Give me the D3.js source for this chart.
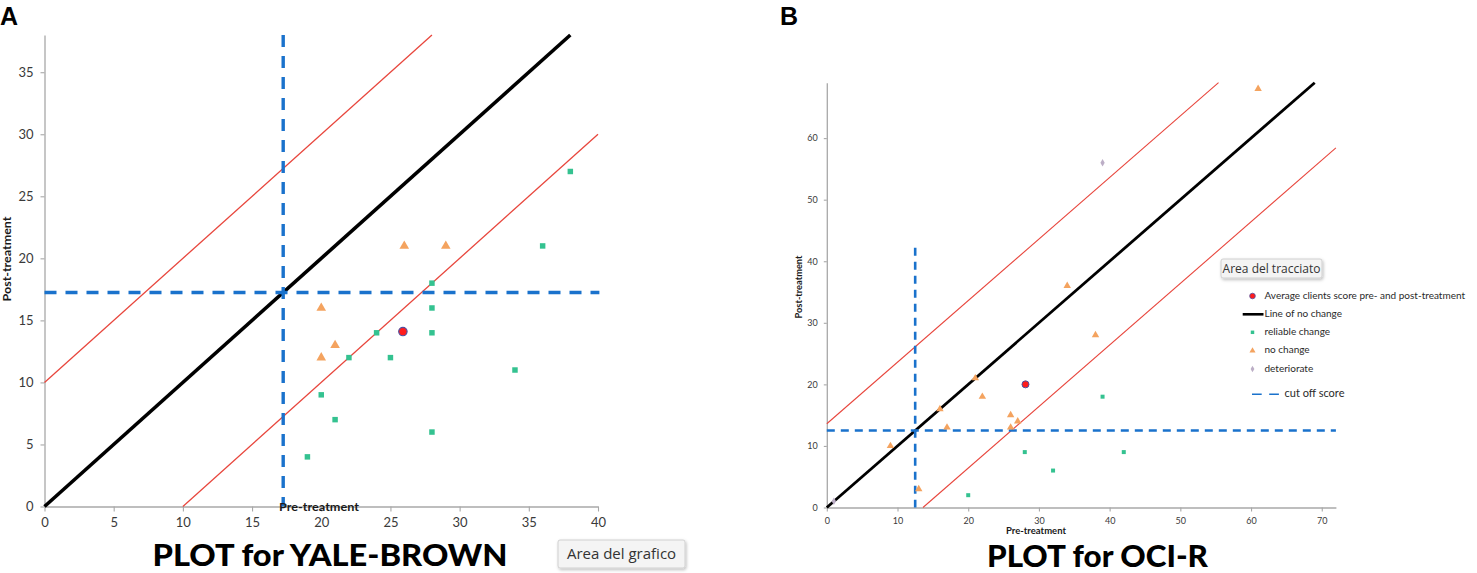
<!DOCTYPE html>
<html><head><meta charset="utf-8">
<script src="https://cdn.jsdelivr.net/npm/d3@7"></script>
<style>
body{margin:0;background:#fff}
svg{display:block}
text{font-family:Lato,"Liberation Sans",sans-serif}
</style>
</head><body>
<svg id="chart" width="1477" height="573"></svg>
<script>
// ---------- DATA ----------
// Panel A : Yale-Brown (Y-BOCS)
const ybocsTitle = "PLOT for YALE-BROWN";
const ybocsXTicks = [0, 5, 10, 15, 20, 25, 30, 35, 40];
const ybocsYTicks = [0, 5, 10, 15, 20, 25, 30, 35];
const ybocsXMax = 40;
const ybocsYMax = 38;
const ybocsCutoff = 17.25;
const ybocsRCI = 10;
const ybocsCutoffHEnd = 40.1;
const ybocsCutoffVEnd = 38;
const ybocsReliable = [[38,27],[36,21],[28,18],[28,16],[28,14],[24,14],[25,12],[22,12],[34,11],[20,9],[21,7],[28,6],[19,4]];
const ybocsNoChange = [[26,21],[29,21],[20,16],[21,13],[20,12]];
const ybocsDeteriorate = [];
const ybocsAverage = [[25.9,14.1]];

// Panel B : OCI-R
const ociTitle = "PLOT for OCI-R";
const ociXTicks = [0, 10, 20, 30, 40, 50, 60, 70];
const ociYTicks = [0, 10, 20, 30, 40, 50, 60];
const ociXMax = 72;
const ociYMax = 69;
const ociCutoff = 12.5;
const ociRCI = 13.6;
const ociCutoffHEnd = 72;
const ociCutoffVEnd = 42.2;
const ociReliable = [[39,18],[28,9],[42,9],[32,6],[20,2]];
const ociNoChange = [[61,68],[34,36],[38,28],[21,21],[22,18],[16,16],[26,15],[27,14],[26,13],[17,13],[9,10],[13,3]];
const ociDeteriorate = [[39,56],[1,1]];
const ociAverage = [[28.1,20]];

const legendLabels = ["Average clients score pre- and post-treatment","Line of no change","reliable change","no change","deteriorate","cut off score"];
const axisXLabel = "Pre-treatment";
const axisYLabel = "Post-treatment";

// ---------- STYLE ----------
const C = {
  green:"#34c290", orange:"#f4a35f", red:"#e8463d", avg:"#ff1c1c", avgStroke:"#5050a0",
  blue:"#1a72cc", grey:"#bcaec6", axis:"#a8a8a8", text:"#3a3a3a"
};

const svg = d3.select("#chart");
svg.append("rect").attr("width",1477).attr("height",573).attr("fill","#fff");
const defs = svg.append("defs");
const f = defs.append("filter").attr("id","sh").attr("x","-10%").attr("y","-20%").attr("width","130%").attr("height","160%");
f.append("feDropShadow").attr("dx",1).attr("dy",1.5).attr("stdDeviation",1.5).attr("flood-color","#000").attr("flood-opacity",0.25);

function drawPanel(cfg, d) {
  const g = svg.append("g");
  const x = d3.scaleLinear().domain([0, d.xMax]).range(cfg.xr);
  const y = d3.scaleLinear().domain([0, d.yMax]).range(cfg.yr);

  // axes
  const ax = g.append("g").attr("transform", `translate(0,${cfg.yr[0]})`)
    .call(d3.axisBottom(x).tickValues(d.xTicks).tickSize(cfg.xTick).tickSizeOuter(0).tickPadding(cfg.xPad));
  const ay = g.append("g").attr("transform", `translate(${cfg.xr[0]},0)`)
    .call(d3.axisLeft(y).tickValues(d.yTicks).tickSize(cfg.yTick).tickSizeOuter(0).tickPadding(cfg.yPad));
  [ax, ay].forEach(a => {
    a.select(".domain").attr("stroke", C.axis).attr("stroke-width", 1.3);
    a.selectAll(".tick line").attr("stroke", C.axis).attr("stroke-width", 1.1);
    a.selectAll("text").attr("fill", C.text).style("font-size", cfg.tickFont + "px").style("font-family", "Lato, sans-serif");
  });

  const line = d3.line().x(p => x(p[0])).y(p => y(p[1]));
  // reliable change bounds
  g.append("path").attr("d", line([[0, d.rci], [d.yMax - d.rci, d.yMax]]))
    .attr("stroke", C.red).attr("stroke-width", cfg.redW).attr("fill", "none");
  g.append("path").attr("d", line([[d.rci, 0], [d.xMax, d.xMax - d.rci]]))
    .attr("stroke", C.red).attr("stroke-width", cfg.redW).attr("fill", "none");
  // line of no change
  const m = Math.min(d.xMax, d.yMax);
  g.append("path").attr("d", line([[0, 0], [m, m]]))
    .attr("stroke", "#000").attr("stroke-width", cfg.blackW).attr("fill", "none");
  // cut off
  g.append("path").attr("d", line([[0, d.cutoff], [d.hEnd, d.cutoff]]))
    .attr("stroke", C.blue).attr("stroke-width", cfg.blueW).attr("stroke-dasharray", cfg.dash).attr("fill", "none");
  g.append("path").attr("d", line([[d.cutoff, d.vEnd], [d.cutoff, 0]]))
    .attr("stroke", C.blue).attr("stroke-width", cfg.blueW).attr("stroke-dasharray", cfg.dash).attr("fill", "none");

  // points
  const sym = (type, size) => d3.symbol().type(type).size(size)();
  g.selectAll(".rel").data(d.reliable).join("path").attr("class","rel")
    .attr("transform", p => `translate(${x(p[0])},${y(p[1])})`)
    .attr("d", sym(d3.symbolSquare, cfg.sq)).attr("fill", C.green);
  g.selectAll(".nc").data(d.noChange).join("path").attr("class","nc")
    .attr("transform", p => `translate(${x(p[0])},${y(p[1])})`)
    .attr("d", sym(d3.symbolTriangle, cfg.tri)).attr("fill", C.orange);
  g.selectAll(".det").data(d.deteriorate).join("path").attr("class","det")
    .attr("transform", p => `translate(${x(p[0])},${y(p[1])})`)
    .attr("d", sym(d3.symbolDiamond, cfg.dia)).attr("fill", C.grey);
  g.selectAll(".avg").data(d.average).join("circle").attr("class","avg")
    .attr("cx", p => x(p[0])).attr("cy", p => y(p[1])).attr("r", cfg.avgR)
    .attr("fill", C.avg).attr("stroke", C.avgStroke).attr("stroke-width", cfg.avgSW);

  // axis titles
  g.append("text").attr("x", cfg.xLab[0]).attr("y", cfg.xLab[1]).attr("text-anchor","middle")
    .attr("dominant-baseline","middle").style("font-weight","700").style("font-size", cfg.labFont+"px")
    .attr("fill","#1a1a1a").attr("textLength", cfg.xLabLen).attr("lengthAdjust","spacingAndGlyphs").text(axisXLabel);
  g.append("text").attr("transform", `translate(${cfg.yLab[0]},${cfg.yLab[1]}) rotate(-90)`).attr("text-anchor","middle")
    .attr("dominant-baseline","middle").style("font-weight","700").style("font-size", cfg.labFont+"px")
    .attr("fill","#1a1a1a").attr("textLength", cfg.yLabLen).attr("lengthAdjust","spacingAndGlyphs").text(axisYLabel);

  // big title
  g.append("text").attr("x", cfg.title[0]).attr("y", cfg.title[1]).attr("text-anchor","middle")
    .style("font-weight","900").style("font-size","31px").attr("fill","#000")
    .attr("textLength", cfg.titleLen).attr("lengthAdjust","spacingAndGlyphs").text(d.title);

  // panel letter
  g.append("text").attr("x", cfg.letter[0]).attr("y", 25).style("font-family","'Liberation Sans',Arial,sans-serif")
    .style("font-weight","700").style("font-size","25px").attr("fill","#000").text(cfg.letterText);

  // tooltip-like box
  const b = cfg.box;
  const bg = g.append("g");
  bg.append("rect").attr("x", b.x).attr("y", b.y).attr("width", b.w).attr("height", b.h).attr("rx", 2)
    .attr("fill", "#f4f4f4").attr("stroke", "#d0d0d0").attr("filter","url(#sh)");
  bg.append("text").attr("x", b.x + b.w/2).attr("y", b.y + b.h/2 + 1).attr("text-anchor","middle")
    .attr("dominant-baseline","middle").style("font-family","'Open Sans',sans-serif").style("font-size", b.font+"px")
    .attr("fill","#333").text(b.text);
  return {x, y};
}

drawPanel({
  xr:[44.5, 598], yr:[506.5, 35], xTick:5, xPad:6, yTick:4, yPad:7, tickFont:13,
  redW:1.3, blackW:3.6, blueW:3.4, dash:"12,9", sq:30, tri:40, dia:20, avgR:4.2, avgSW:1.2,
  xLab:[319, 508], xLabLen:80, yLab:[8, 259], yLabLen:85, labFont:12,
  title:[330, 566], titleLen:355, letter:[0,0], letterText:"A",
  box:{x:558, y:540, w:127, h:28, text:"Area del grafico", font:15}
}, {
  title: ybocsTitle, xTicks: ybocsXTicks, yTicks: ybocsYTicks, xMax: ybocsXMax, yMax: ybocsYMax,
  cutoff: ybocsCutoff, rci: ybocsRCI, hEnd: ybocsCutoffHEnd, vEnd: ybocsCutoffVEnd,
  reliable: ybocsReliable, noChange: ybocsNoChange, deteriorate: ybocsDeteriorate, average: ybocsAverage
});

drawPanel({
  xr:[826.8, 1335.9], yr:[507.5, 82.7], xTick:4, xPad:6, yTick:3, yPad:6, tickFont:9,
  redW:1.1, blackW:2.8, blueW:2.6, dash:"8,6", sq:16, tri:24, dia:16, avgR:3.5, avgSW:1,
  xLab:[1036, 532], xLabLen:60, yLab:[800, 287], yLabLen:63, labFont:9,
  title:[1097.5, 567], titleLen:221, letter:[780,0], letterText:"B",
  box:{x:1221, y:259, w:101, h:19, text:"Area del tracciato", font:12}
}, {
  title: ociTitle, xTicks: ociXTicks, yTicks: ociYTicks, xMax: ociXMax, yMax: ociYMax,
  cutoff: ociCutoff, rci: ociRCI, hEnd: ociCutoffHEnd, vEnd: ociCutoffVEnd,
  reliable: ociReliable, noChange: ociNoChange, deteriorate: ociDeteriorate, average: ociAverage
});

// ---------- LEGEND (panel B) ----------
const lg = svg.append("g");
const legY = [296, 314.3, 332.3, 350.7, 369, 394.3];
const mx = 1252.5, tx = 1264.5;
lg.append("circle").attr("cx", mx).attr("cy", legY[0]).attr("r", 2.8).attr("fill", C.avg).attr("stroke", C.avgStroke).attr("stroke-width", 0.8);
lg.append("line").attr("x1", 1242.7).attr("x2", 1263.5).attr("y1", legY[1]).attr("y2", legY[1]).attr("stroke", "#000").attr("stroke-width", 2.6);
lg.append("path").attr("transform", `translate(${mx},${legY[2]})`).attr("d", d3.symbol().type(d3.symbolSquare).size(12)()).attr("fill", C.green);
lg.append("path").attr("transform", `translate(${mx},${legY[3]})`).attr("d", d3.symbol().type(d3.symbolTriangle).size(16)()).attr("fill", C.orange);
lg.append("path").attr("transform", `translate(${mx},${legY[4]})`).attr("d", d3.symbol().type(d3.symbolDiamond).size(12)()).attr("fill", C.grey);
lg.append("line").attr("x1", 1252).attr("x2", 1280).attr("y1", legY[5]).attr("y2", legY[5]).attr("stroke", C.blue).attr("stroke-width", 1.6).attr("stroke-dasharray", "9.7,7.5");
legendLabels.forEach((t, i) => {
  lg.append("text").attr("x", i === 5 ? 1284.5 : tx).attr("y", legY[i]).attr("dominant-baseline","middle")
    .style("font-size", (i === 5 ? 11 : 10) + "px").attr("fill", "#2a2a2a").text(t);
});
</script>
</body></html>
